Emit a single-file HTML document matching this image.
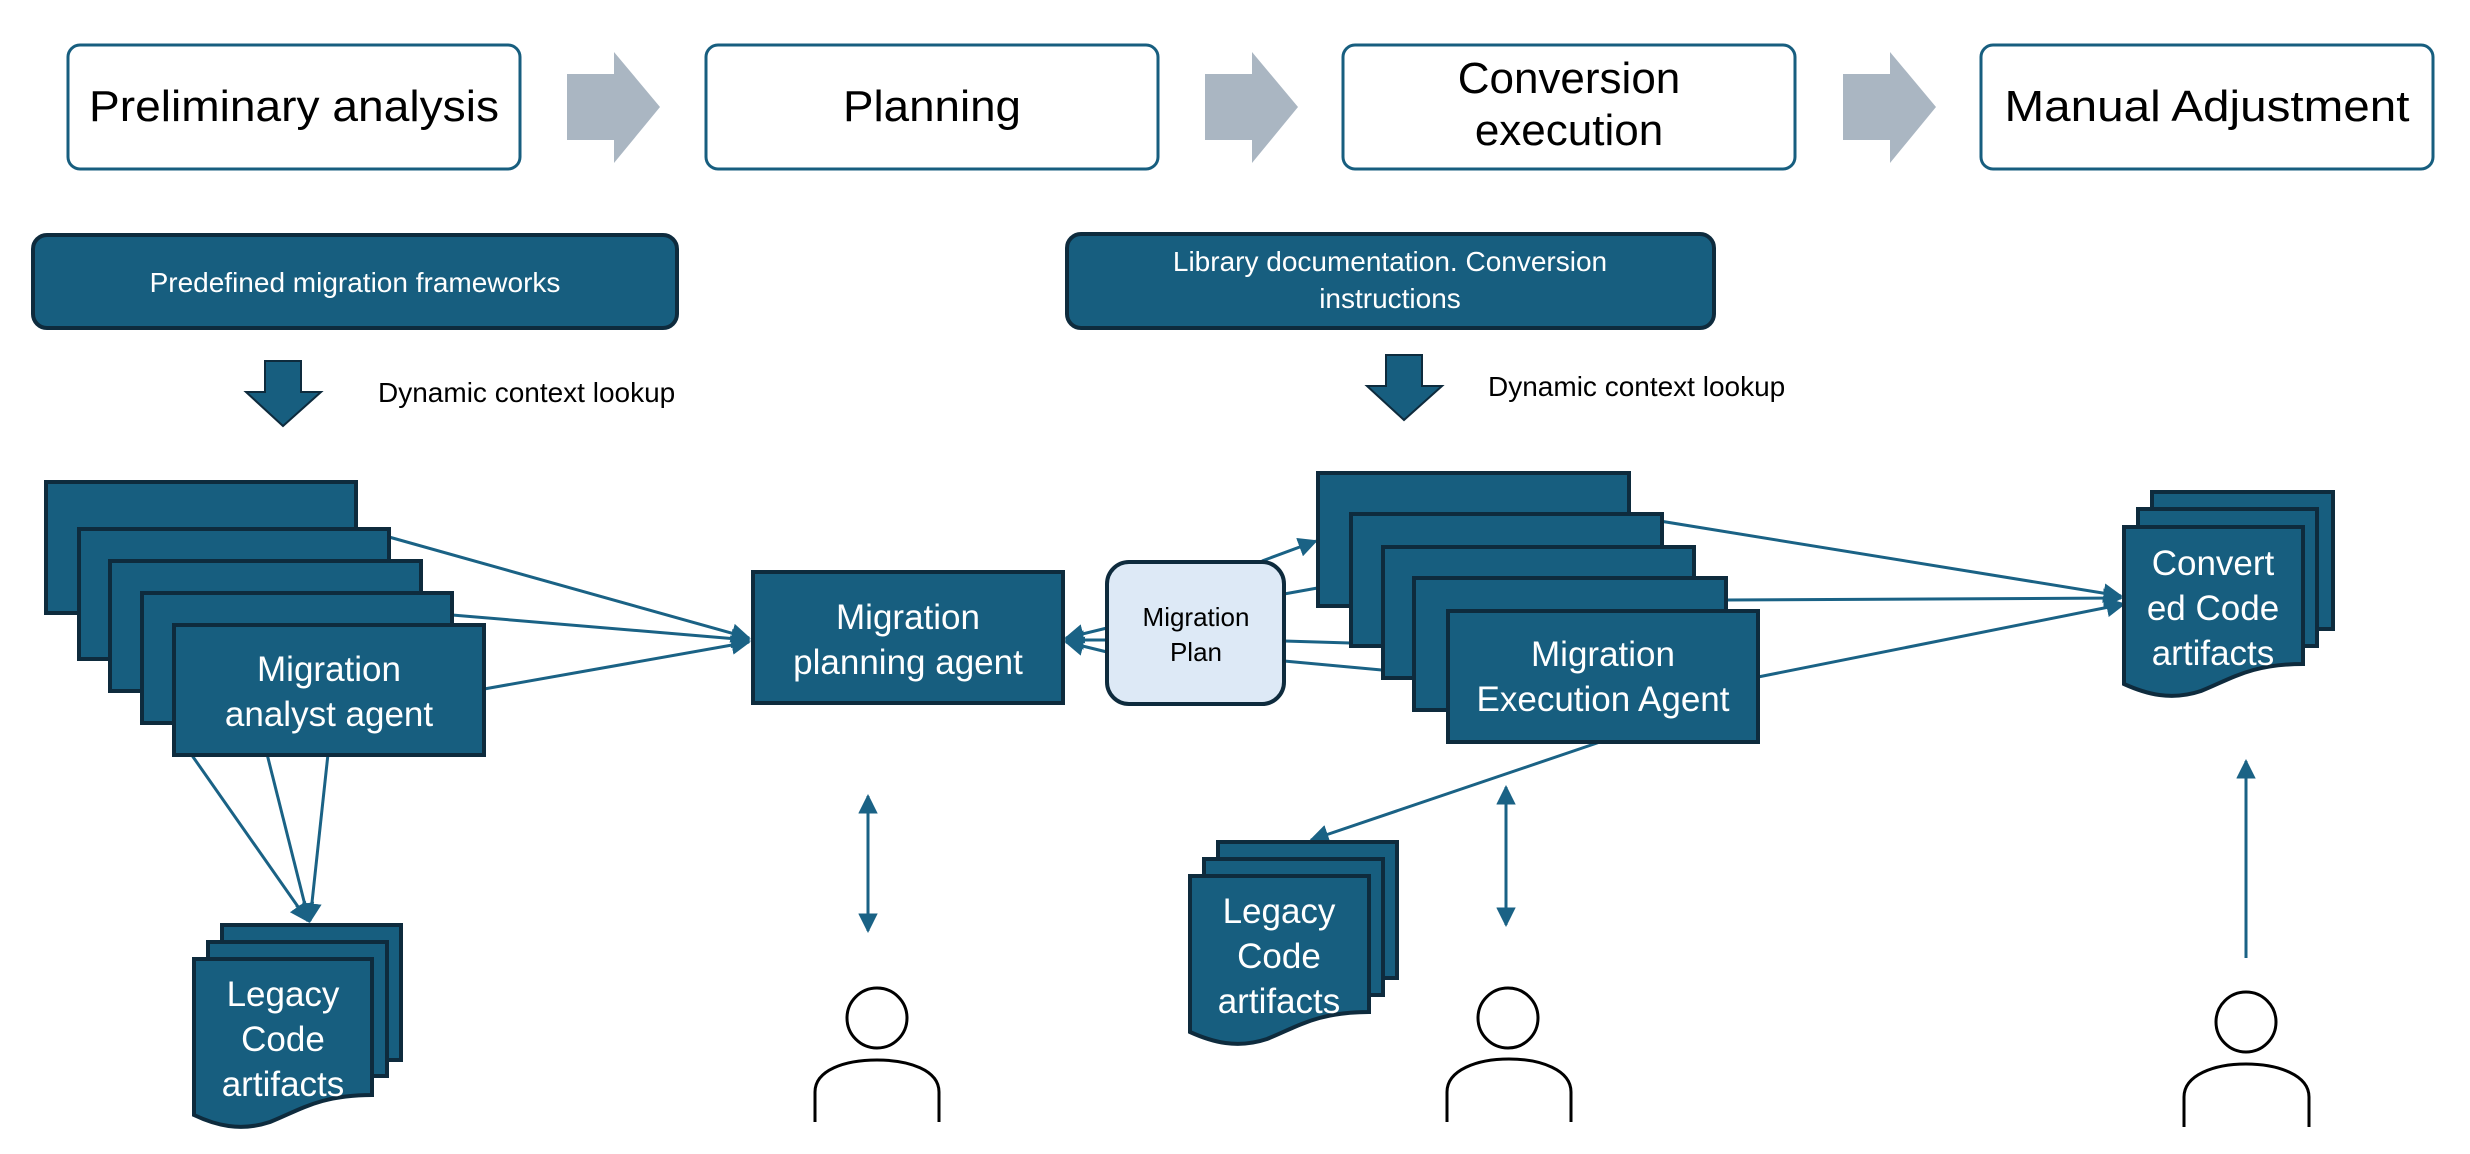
<!DOCTYPE html>
<html><head><meta charset="utf-8"><style>
html,body{margin:0;padding:0;background:#fff;}
svg{display:block;}
text{font-family:"Liberation Sans Narrow","Liberation Sans",sans-serif;}
</style></head><body>
<svg width="2470" height="1154" viewBox="0 0 2470 1154" xmlns="http://www.w3.org/2000/svg">
<defs>
<marker id="ah" viewBox="0 0 10 10" refX="9" refY="5" markerWidth="6.5" markerHeight="6.5" orient="auto-start-reverse"><path d="M0,0 L10,5 L0,10 z" fill="#1a6285"/></marker>
</defs>
<g fill="#fff" stroke="#175e7f" stroke-width="3">
<rect x="68" y="45" width="452" height="124" rx="12"/>
<rect x="706" y="45" width="452" height="124" rx="12"/>
<rect x="1343" y="45" width="452" height="124" rx="12"/>
<rect x="1981" y="45" width="452" height="124" rx="12"/>
</g>
<g fill="#aab6c2">
<path d="M567,74 H614 V52 L660,107 L614,163 V140 H567 Z"/>
<path d="M1205,74 H1252 V52 L1298,107 L1252,163 V140 H1205 Z"/>
<path d="M1843,74 H1890 V52 L1936,107 L1890,163 V140 H1843 Z"/>
</g>
<g font-size="44" fill="#000" text-anchor="middle">
<text x="294" y="121" textLength="410" lengthAdjust="spacingAndGlyphs">Preliminary analysis</text>
<text x="932" y="121" textLength="178" lengthAdjust="spacingAndGlyphs">Planning</text>
<text x="1569" y="93">Conversion</text>
<text x="1569" y="145">execution</text>
<text x="2207" y="121" textLength="405" lengthAdjust="spacingAndGlyphs">Manual Adjustment</text>
</g>
<g fill="#175e7f" stroke="#0e2b3d" stroke-width="4">
<rect x="33" y="235" width="644" height="93" rx="14"/>
<rect x="1067" y="234" width="647" height="94" rx="14"/>
</g>
<g font-size="28" fill="#fff" text-anchor="middle">
<text x="355" y="292">Predefined migration frameworks</text>
<text x="1390" y="271">Library documentation. Conversion</text>
<text x="1390" y="308">instructions</text>
</g>
<g fill="#175e7f" stroke="#0e2b3d" stroke-width="2">
<path d="M265,361 H301 V392 H321 L283,426 L246,392 H265 Z"/>
<path d="M1386,355 H1422 V386 H1442 L1404,420 L1367,386 H1386 Z"/>
</g>
<g font-size="28" fill="#000">
<text x="378" y="402">Dynamic context lookup</text>
<text x="1488" y="396">Dynamic context lookup</text>
</g>
<g stroke="#1a6285" stroke-width="3" fill="none">
<line x1="389" y1="537" x2="749" y2="638" marker-end="url(#ah)"/>
<line x1="452" y1="615" x2="749" y2="640" marker-end="url(#ah)"/>
<line x1="484" y1="689" x2="749" y2="642" marker-end="url(#ah)"/>
<line x1="191" y1="754" x2="308" y2="921" marker-end="url(#ah)"/>
<line x1="267" y1="754" x2="309" y2="921" marker-end="url(#ah)"/>
<line x1="328" y1="754" x2="310" y2="921" marker-end="url(#ah)"/>
<line x1="1107" y1="628" x2="1066" y2="638" marker-end="url(#ah)"/>
<line x1="1107" y1="640" x2="1066" y2="640" marker-end="url(#ah)"/>
<line x1="1107" y1="652" x2="1066" y2="642" marker-end="url(#ah)"/>
<line x1="1262" y1="561" x2="1316" y2="541" marker-end="url(#ah)"/>
<line x1="1284" y1="594" x2="1351" y2="582"/>
<line x1="1284" y1="641" x2="1383" y2="644"/>
<line x1="1284" y1="661" x2="1414" y2="673"/>
<line x1="1629" y1="516" x2="2121" y2="596" marker-end="url(#ah)"/>
<line x1="1726" y1="600" x2="2121" y2="598" marker-end="url(#ah)"/>
<line x1="1758" y1="677" x2="2124" y2="604" marker-end="url(#ah)"/>
<line x1="1600" y1="742" x2="1311" y2="840" marker-end="url(#ah)"/>
<line x1="868" y1="796" x2="868" y2="931" marker-start="url(#ah)" marker-end="url(#ah)"/>
<line x1="1506" y1="787" x2="1506" y2="925" marker-start="url(#ah)" marker-end="url(#ah)"/>
<line x1="2246" y1="958" x2="2246" y2="761" marker-end="url(#ah)"/>
</g>
<g fill="#175e7f" stroke="#0e2b3d" stroke-width="4">
<rect x="46" y="482" width="310" height="131"/>
<rect x="79" y="529" width="310" height="130"/>
<rect x="110" y="561" width="311" height="130"/>
<rect x="142" y="593" width="310" height="130"/>
<rect x="174" y="625" width="310" height="130"/>
<rect x="753" y="572" width="310" height="131"/>
<rect x="1318" y="473" width="311" height="133"/>
<rect x="1351" y="514" width="311" height="132"/>
<rect x="1383" y="547" width="311" height="131"/>
<rect x="1414" y="578" width="312" height="132"/>
<rect x="1448" y="611" width="310" height="131"/>
</g>
<rect x="1107" y="562" width="177" height="142" rx="22" fill="#dde9f6" stroke="#0e2b3d" stroke-width="4"/>
<g font-size="26" fill="#000" text-anchor="middle">
<text x="1196" y="626">Migration</text>
<text x="1196" y="661">Plan</text>
</g>
<g font-size="35" fill="#fff" text-anchor="middle">
<text x="329" y="681">Migration</text>
<text x="329" y="726">analyst agent</text>
<text x="908" y="629">Migration</text>
<text x="908" y="674">planning agent</text>
<text x="1603" y="666">Migration</text>
<text x="1603" y="711">Execution Agent</text>
</g>
<g fill="#175e7f" stroke="#0e2b3d" stroke-width="4">
<rect x="222" y="925" width="179" height="135"/>
<rect x="208" y="942" width="179" height="134"/>
<path d="M194,959 H372 V1095 C320,1095 300,1110 270,1122 C240,1132 215,1125 194,1115 Z"/>
<rect x="1218" y="842" width="179" height="136"/>
<rect x="1204" y="859" width="179" height="136"/>
<path d="M1190,876 H1369 V1012 C1317,1012 1297,1027 1267,1039 C1237,1049 1212,1042 1190,1032 Z"/>
<rect x="2152" y="492" width="181" height="137"/>
<rect x="2138" y="509" width="179" height="137"/>
<path d="M2124,527 H2303 V664 C2251,664 2231,679 2201,691 C2171,701 2146,694 2124,684 Z"/>
</g>
<g font-size="35" fill="#fff" text-anchor="middle">
<text x="283" y="1006">Legacy</text>
<text x="283" y="1051">Code</text>
<text x="283" y="1096">artifacts</text>
<text x="1279" y="923">Legacy</text>
<text x="1279" y="968">Code</text>
<text x="1279" y="1013">artifacts</text>
<text x="2213" y="575">Convert</text>
<text x="2213" y="620">ed Code</text>
<text x="2213" y="665">artifacts</text>
</g>
<g fill="none" stroke="#000" stroke-width="3">
<ellipse cx="877" cy="1018" rx="30" ry="30"/>
<path d="M815,1122 V1092 C815,1070 845,1060 877,1060 C909,1060 939,1070 939,1092 V1122"/>
<ellipse cx="1508" cy="1018" rx="30" ry="30"/>
<path d="M1447,1122 V1092 C1447,1070 1477,1059 1509,1059 C1541,1059 1571,1070 1571,1092 V1122"/>
<ellipse cx="2246" cy="1022" rx="30" ry="30"/>
<path d="M2184,1127 V1097 C2184,1075 2214,1064 2246,1064 C2278,1064 2309,1075 2309,1097 V1127"/>
</g>
</svg>
</body></html>
